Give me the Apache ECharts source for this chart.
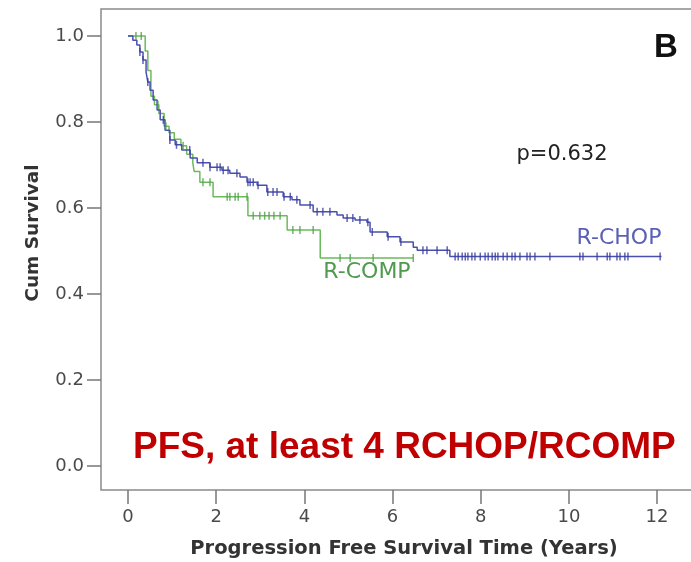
<!DOCTYPE html>
<html>
<head>
<meta charset="utf-8">
<script src="https://cdn.jsdelivr.net/npm/echarts@6/dist/echarts.min.js"></script>
<style>html,body{margin:0;padding:0;background:#fff}#c{width:691px;height:562px}</style>
</head>
<body>
<div id="c"></div>
<script>
// ---- data ----
var xTicks = [0, 2, 4, 6, 8, 10, 12];
var yTicks = [0.0, 0.2, 0.4, 0.6, 0.8, 1.0];

// step points: [time, survival after time]
var rchopSteps = [
  [0,1.0],[0.11,0.99],[0.2,0.979],[0.27,0.963],[0.34,0.944],[0.41,0.916],[0.45,0.893],
  [0.5,0.874],[0.57,0.851],[0.66,0.828],[0.73,0.805],[0.84,0.781],[0.95,0.758],
  [1.07,0.747],[1.22,0.735],[1.41,0.716],[1.57,0.705],[1.86,0.695],[2.13,0.688],
  [2.31,0.681],[2.54,0.672],[2.70,0.660],[2.93,0.653],[3.15,0.637],[3.52,0.626],
  [3.72,0.619],[3.90,0.607],[4.20,0.591],[4.74,0.584],[4.88,0.577],[5.15,0.572],
  [5.42,0.567],[5.49,0.544],[5.88,0.533],[6.17,0.521],[6.47,0.509],[6.56,0.502],
  [7.30,0.487],[12.1,0.487]
];
var rchopCensored = [
  0.27,0.34,0.45,0.8,0.95,1.1,1.4,
  1.70,1.86,2.02,2.09,2.16,2.27,2.47,2.72,2.77,2.84,2.95,3.17,3.29,3.38,3.54,3.68,3.83,
  4.13,4.29,4.42,4.58,4.97,5.1,5.26,5.44,5.54,5.9,6.19,6.69,6.78,7.01,7.24,
  7.42,7.49,7.58,7.65,7.71,7.80,7.87,7.99,8.1,8.17,8.26,8.33,8.39,8.51,8.6,8.71,8.78,
  8.89,9.05,9.12,9.23,9.57,10.25,10.32,10.64,10.87,10.93,11.09,11.16,11.27,11.34,12.07
];

var rcompSteps = [
  [0,1.0],[0.39,0.965],[0.45,0.92],[0.52,0.86],[0.6,0.84],[0.7,0.82],[0.82,0.79],
  [0.93,0.775],[1.05,0.76],[1.2,0.745],[1.33,0.725],[1.47,0.705],[1.5,0.685],
  [1.63,0.66],[1.93,0.626],[2.72,0.582],[3.61,0.549],[4.36,0.484],[6.47,0.484]
];
var rcompCensored = [
  0.18,0.3,0.68,0.86,1.25,1.70,1.86,2.25,2.31,2.43,2.50,2.70,2.84,2.99,3.10,3.2,3.31,3.45,
  3.74,3.90,4.20,4.81,5.04,5.56,6.47
];

function survAt(steps, t) {
  var s = steps[0][1];
  for (var i = 0; i < steps.length; i++) { if (steps[i][0] <= t) s = steps[i][1]; }
  return s;
}
function censorPts(steps, times) { return times.map(function (t) { return [t, survAt(steps, t)]; }); }

var BLUE = '#4a4fae', GREEN = '#6cba5c';
var axisFont = 'DejaVu Sans';

var chart = echarts.init(document.getElementById('c'), null, {renderer: 'canvas'});
chart.setOption({
  backgroundColor: '#fff',
  animation: false,
  grid: {left: 101, right: 0, top: 9, bottom: 72},
  xAxis: {
    type: 'value', min: -0.6125, max: 12.77,
    axisLine: {show: false, onZero: false},
    axisTick: {show: true, length: 14, customValues: xTicks, lineStyle: {color: '#777', width: 1.5}},
    axisLabel: {margin: 18, color: '#4a4a4a', fontSize: 18, fontFamily: axisFont, customValues: xTicks,
      formatter: function (v) { return String(v); }},
    splitLine: {show: false}
  },
  yAxis: {
    type: 'value', min: -0.0558, max: 1.0628,
    axisLine: {show: false, onZero: false},
    axisTick: {show: true, length: 14, customValues: yTicks, lineStyle: {color: '#777', width: 1.5}},
    axisLabel: {margin: 17, color: '#4a4a4a', fontSize: 18, fontFamily: axisFont, customValues: yTicks,
      formatter: function (v) { return v.toFixed(1); }},
    splitLine: {show: false}
  },
  series: [
    {type: 'line', step: 'end', data: rcompSteps, showSymbol: false,
      lineStyle: {color: GREEN, width: 1.5}, z: 3},
    {type: 'line', step: 'end', data: rchopSteps, showSymbol: false,
      lineStyle: {color: BLUE, width: 1.5}, z: 4},
    {type: 'scatter', data: censorPts(rcompSteps, rcompCensored), symbol: 'rect',
      symbolSize: [1.5, 8], itemStyle: {color: '#4fa04a'}, z: 5},
    {type: 'scatter', data: censorPts(rchopSteps, rchopCensored), symbol: 'rect',
      symbolSize: [1.5, 8], itemStyle: {color: '#3a3f9e'}, z: 6}
  ],
  graphic: [
    {type: 'rect', shape: {x: 101, y: 9, width: 640, height: 481}, z: 0,
      style: {fill: 'none', stroke: '#8a8a8a', lineWidth: 1.5}},
    {type: 'text', x: 666, y: 48, z: 10,
      style: {text: 'B', fontFamily: 'Liberation Sans', fontWeight: 'bold', fontSize: 33, fill: '#111',
        textAlign: 'center', textVerticalAlign: 'middle'}},
    {type: 'text', x: 562, y: 155, z: 10,
      style: {text: 'p=0.632', fontFamily: axisFont, fontSize: 21, fill: '#222',
        textAlign: 'center', textVerticalAlign: 'middle'}},
    {type: 'text', x: 619, y: 238, z: 10,
      style: {text: 'R-CHOP', fontFamily: axisFont, fontSize: 22, fill: '#5b5fb5',
        textAlign: 'center', textVerticalAlign: 'middle'}},
    {type: 'text', x: 367, y: 272, z: 10,
      style: {text: 'R-COMP', fontFamily: axisFont, fontSize: 22, fill: '#4f9a4f',
        textAlign: 'center', textVerticalAlign: 'middle'}},
    {type: 'text', x: 133, y: 448, z: 10,
      style: {text: 'PFS, at least 4 RCHOP/RCOMP', fontFamily: 'Liberation Sans', fontWeight: 'bold',
        fontSize: 37, fill: '#c00000', textAlign: 'left', textVerticalAlign: 'middle'}},
    {type: 'text', x: 404, y: 549, z: 10,
      style: {text: 'Progression Free Survival Time (Years)', fontFamily: axisFont, fontWeight: 'bold',
        fontSize: 19.5, fill: '#333', textAlign: 'center', textVerticalAlign: 'middle'}},
    {type: 'text', x: 33, y: 233, rotation: Math.PI / 2, z: 10,
      style: {text: 'Cum Survival', fontFamily: axisFont, fontWeight: 'bold',
        fontSize: 18.5, fill: '#333', textAlign: 'center', textVerticalAlign: 'middle'}}
  ]
});
</script>
</body>
</html>
